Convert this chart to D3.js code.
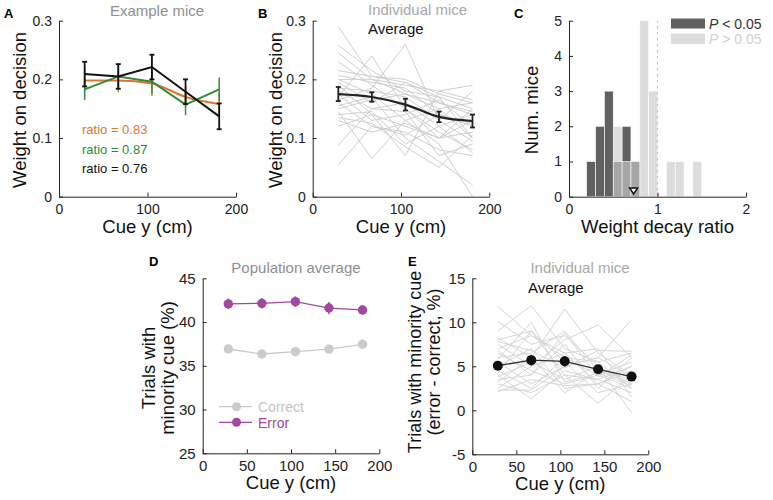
<!DOCTYPE html>
<html><head><meta charset="utf-8">
<script src="https://cdn.jsdelivr.net/npm/d3@7"></script>
<style>
html,body{margin:0;padding:0;background:#fff;}
svg text{font-family:"Liberation Sans",Arial,Helvetica,sans-serif;}
</style></head>
<body>
<svg id="fig" width="773" height="500"></svg>
<script>
// ---------------- DATA ----------------
const cueY = [29, 67, 105, 143, 181];

// Panel A: example mice
const exOrange = [0.198, 0.198, 0.193, 0.170, 0.158];
const exOrangeErr = [0.020, 0.020, 0.021, 0.018, 0.020];
const exGreen = [0.183, 0.205, 0.196, 0.157, 0.183];
const exGreenErr = [0.018, 0.020, 0.020, 0.018, 0.020];
const exBlack = [0.209, 0.205, 0.221, 0.179, 0.137];
const exBlackErr = [0.021, 0.021, 0.021, 0.021, 0.022];
const ratioLabels = ["ratio = 0.83", "ratio = 0.87", "ratio = 0.76"];

// Panel B: individual mice weights and average
const indivWeights = [
  [0.290, 0.205, 0.195, 0.160, 0.140],
  [0.258, 0.215, 0.180, 0.170, 0.150],
  [0.245, 0.200, 0.190, 0.180, 0.190],
  [0.230, 0.190, 0.150, 0.110, 0.080],
  [0.215, 0.205, 0.200, 0.175, 0.160],
  [0.207, 0.195, 0.185, 0.140, 0.120],
  [0.200, 0.175, 0.130, 0.090, 0.000],
  [0.195, 0.160, 0.195, 0.170, 0.100],
  [0.190, 0.140, 0.120, 0.100, 0.110],
  [0.185, 0.180, 0.170, 0.130, 0.180],
  [0.180, 0.150, 0.160, 0.120, 0.140],
  [0.175, 0.130, 0.140, 0.165, 0.120],
  [0.170, 0.240, 0.150, 0.100, 0.130],
  [0.165, 0.185, 0.260, 0.130, 0.095],
  [0.160, 0.120, 0.110, 0.080, 0.070],
  [0.155, 0.170, 0.100, 0.060, 0.020],
  [0.150, 0.165, 0.175, 0.150, 0.160],
  [0.145, 0.065, 0.130, 0.150, 0.100],
  [0.140, 0.145, 0.090, 0.120, 0.075],
  [0.135, 0.125, 0.085, 0.050, 0.105],
  [0.130, 0.110, 0.125, 0.100, 0.150],
  [0.120, 0.140, 0.070, 0.180, 0.165],
  [0.088, 0.150, 0.145, 0.070, 0.090],
  [0.054, 0.120, 0.105, 0.140, 0.125],
  [0.200, 0.200, 0.175, 0.160, 0.145]
];
const avgWeight = [0.175, 0.170, 0.157, 0.136, 0.129];
const avgWeightErr = [0.012, 0.008, 0.010, 0.009, 0.011];

// Panel C: histogram of weight decay ratio
const binLower = [0.2, 0.3, 0.4, 0.5, 0.6, 0.7, 0.8, 0.9, 1.0, 1.1, 1.2, 1.3, 1.4];
const countSig = [1, 2, 3, 1, 2, 1, 0, 0, 0, 0, 0, 0, 0];
const countNonSig = [0, 0, 0, 2, 1, 1, 5, 3, 0, 1, 1, 0, 1];
const binWidth = 0.1;
const meanRatio = 0.73;
const legendC = ["< 0.05", "> 0.05"];

// Panel D: population average
const pctCorrect = [36.92, 36.35, 36.62, 36.90, 37.46];
const pctCorrectErr = [0.2, 0.2, 0.2, 0.45, 0.3];
const pctError = [42.07, 42.14, 42.33, 41.60, 41.38];
const pctErrorErr = [0.6, 0.6, 0.6, 0.7, 0.5];

// Panel E: error - correct, individual mice + average
const indivDiff = [
  [11.8, 8.5, 6.0, 4.0, 2.5],
  [10.1, 7.5, 8.5, 5.0, 3.0],
  [9.0, 11.9, 7.0, 5.5, 6.5],
  [8.2, 6.0, 11.5, 6.5, 4.0],
  [8.0, 9.0, 4.0, 3.5, 2.0],
  [7.5, 5.0, 8.0, 9.7, 6.0],
  [7.0, 8.5, 6.5, 3.0, 1.0],
  [6.5, 4.5, 3.0, 4.0, 5.5],
  [6.0, 6.5, 9.0, 4.5, 3.5],
  [5.5, 3.0, 5.0, 6.0, 10.3],
  [5.0, 7.0, 2.5, 3.0, 4.5],
  [4.5, 2.5, 6.0, 5.5, 2.5],
  [4.2, 9.0, 5.5, 2.0, 3.0],
  [4.0, 1.3, 4.5, 3.5, 5.0],
  [3.8, 5.5, 3.5, 5.0, -0.3],
  [3.5, 4.0, 7.5, 2.5, 6.0],
  [3.2, 6.0, 2.0, 4.5, 3.0],
  [3.0, 2.0, 4.0, 0.8, 4.0],
  [2.5, 5.0, 6.5, 7.0, 1.5],
  [2.1, 3.5, 2.8, 3.0, 5.0],
  [7.8, 6.8, 4.8, 6.8, 6.7],
  [5.8, 10.0, 3.2, 4.2, 2.8],
  [2.3, 2.3, 5.0, 6.0, 3.8],
  [6.8, 4.0, 8.8, 3.8, 6.3]
];
const avgDiff = [5.07, 5.70, 5.57, 4.66, 3.83];
const avgDiffErr = [0.5, 0.6, 0.6, 0.3, 0.5];

const ticksWeight = [0, 0.1, 0.2, 0.3];
const ticksCue3 = [0, 100, 200];
const ticksCue5 = [0, 50, 100, 150, 200];
const ticksCount = [0, 1, 2, 3, 4, 5];
const ticksRatio = [0, 1, 2];
const ticksPctD = [25, 30, 35, 40, 45];
const ticksPctE = [-5, 0, 5, 10, 15];

// ---------------- DRAW ----------------
const svg = d3.select("#fig");
const AX = "#262626";
const GRAYT = "#8f8f8f";
const ORANGE = "#d9782d", GREEN = "#2f8a3a", PURPLE = "#a2479f";
const INDIV = "#cfcfcf";

function axes(g, xs, ys, xticks, yticks, yfmt, fs) {
  fs = fs || 14;
  const gx = g.append("g").attr("transform", `translate(0,${ys.range()[0]})`)
    .call(d3.axisBottom(xs).tickValues(xticks).tickSizeInner(-4).tickSizeOuter(0).tickPadding(7).tickFormat(d => d));
  const gy = g.append("g").attr("transform", `translate(${xs.range()[0]},0)`)
    .call(d3.axisLeft(ys).tickValues(yticks).tickSizeInner(-4).tickSizeOuter(0).tickPadding(7).tickFormat(yfmt || (d => d)));
  [gx, gy].forEach(a => {
    a.selectAll("path,line").attr("stroke", AX).attr("stroke-width", 1);
    a.selectAll("text").attr("font-size", fs).attr("fill", "#222")
      .style("font-family", '"Liberation Sans",Arial,sans-serif');
  });
}
function xlabel(g, xs, ys, txt) {
  const r = xs.range();
  g.append("text").attr("x", (r[0] + r[1]) / 2).attr("y", ys.range()[0] + 36)
    .attr("text-anchor", "middle").attr("font-size", 18.5).attr("fill", "#111").text(txt);
}
function ylabel(g, x, y, lines) {
  const t = g.append("text").attr("transform", `translate(${x},${y}) rotate(-90)`)
    .attr("text-anchor", "middle").attr("font-size", 18.5).attr("fill", "#111");
  lines.forEach((l, i) => t.append("tspan").attr("x", 0).attr("dy", i === 0 ? (lines.length > 1 ? -2 : 6) : 19).text(l));
}
function letter(x, y, s) {
  svg.append("text").attr("x", x).attr("y", y).attr("font-size", 13).attr("font-weight", "bold").attr("fill", "#000").text(s);
}
function errbars(g, xs, ys, xv, yv, ev, color, w, cap) {
  xv.forEach((x, i) => {
    const px = xs(x);
    g.append("line").attr("x1", px).attr("x2", px).attr("y1", ys(yv[i] - ev[i])).attr("y2", ys(yv[i] + ev[i]))
      .attr("stroke", color).attr("stroke-width", w);
    if (cap > 0) {
      [yv[i] - ev[i], yv[i] + ev[i]].forEach(v => g.append("line").attr("x1", px - cap).attr("x2", px + cap)
        .attr("y1", ys(v)).attr("y2", ys(v)).attr("stroke", color).attr("stroke-width", w));
    }
  });
}
const fmtW = d => d === 0 ? "0" : d3.format(".1f")(d);

// ---- Panel A ----
{
  const g = svg.append("g");
  const xs = d3.scaleLinear().domain([0, 200]).range([59, 236]);
  const ys = d3.scaleLinear().domain([0, 0.3]).range([196.7, 20.7]);
  axes(g, xs, ys, ticksCue3, ticksWeight, fmtW);
  const line = d3.line().x((d, i) => xs(cueY[i])).y(d => ys(d));
  const sm = d3.line().x((d, i) => xs(cueY[i])).y(d => ys(d)).curve(d3.curveMonotoneX);
  errbars(g, xs, ys, cueY, exOrange, exOrangeErr, ORANGE, 1.5, 0);
  g.append("path").datum(exOrange).attr("d", sm).attr("fill", "none").attr("stroke", ORANGE).attr("stroke-width", 2);
  errbars(g, xs, ys, cueY, exGreen, exGreenErr, GREEN, 1.5, 0);
  g.append("path").datum(exGreen).attr("d", line).attr("fill", "none").attr("stroke", GREEN).attr("stroke-width", 2);
  errbars(g, xs, ys, cueY, exBlack, exBlackErr, "#111", 1.8, 2.5);
  g.append("path").datum(exBlack).attr("d", line).attr("fill", "none").attr("stroke", "#111").attr("stroke-width", 2);
  const cols = [ORANGE, GREEN, "#111"];
  ratioLabels.forEach((t, i) => g.append("text").attr("x", 82).attr("y", 134 + i * 19.5).attr("font-size", 13)
    .attr("fill", cols[i]).text(t));
  g.append("text").attr("x", 157).attr("y", 16).attr("text-anchor", "middle").attr("font-size", 15).attr("fill", GRAYT).text("Example mice");
  xlabel(g, xs, ys, "Cue y (cm)");
  ylabel(g, 20, 110, ["Weight on decision"]);
  letter(4, 18, "A");
}

// ---- Panel B ----
{
  const g = svg.append("g");
  const xs = d3.scaleLinear().domain([0, 200]).range([312.7, 489.3]);
  const ys = d3.scaleLinear().domain([0, 0.3]).range([196.7, 20.7]);
  const line = d3.line().x((d, i) => xs(cueY[i])).y(d => ys(d));
  indivWeights.forEach(w => g.append("path").datum(w).attr("d", line).attr("fill", "none").attr("stroke", INDIV).attr("stroke-width", 1));
  axes(g, xs, ys, ticksCue3, ticksWeight, fmtW);
  const sm = d3.line().x((d, i) => xs(cueY[i])).y(d => ys(d)).curve(d3.curveMonotoneX);
  g.append("path").datum(avgWeight).attr("d", sm).attr("fill", "none").attr("stroke", "#222").attr("stroke-width", 2.2);
  errbars(g, xs, ys, cueY, avgWeight, avgWeightErr, "#222", 1.8, 2.5);
  g.append("text").attr("x", 368).attr("y", 15).attr("font-size", 15).attr("fill", "#a8a8a8").text("Individual mice");
  g.append("text").attr("x", 368).attr("y", 34).attr("font-size", 15).attr("fill", "#111").text("Average");
  xlabel(g, xs, ys, "Cue y (cm)");
  ylabel(g, 275.5, 110, ["Weight on decision"]);
  letter(258, 18, "B");
}

// ---- Panel C ----
{
  const g = svg.append("g");
  const xs = d3.scaleLinear().domain([0, 2]).range([569, 746]);
  const ys = d3.scaleLinear().domain([0, 5]).range([196.7, 20.7]);
  const DARK = "#616161", LIGHT = "#dcdcdc", MID = "#a6a6a6";
  const bars = binLower.map((b, i) => ({ b, s: countSig[i], n: countNonSig[i] }));
  const drawBars = (key, col) => g.selectAll(null).data(bars.filter(d => key(d) > 0)).enter().append("rect")
    .attr("x", d => xs(d.b)).attr("width", d => xs(d.b + binWidth) - xs(d.b))
    .attr("y", d => ys(key(d))).attr("height", d => ys(0) - ys(key(d)))
    .attr("fill", col).attr("stroke", "#fff").attr("stroke-width", 0.6);
  drawBars(d => d.n, LIGHT);
  drawBars(d => d.s, DARK);
  drawBars(d => Math.min(d.s, d.n), MID);
  g.append("line").attr("x1", xs(1)).attr("x2", xs(1)).attr("y1", ys(0)).attr("y2", ys(5))
    .attr("stroke", "#c8c8c8").attr("stroke-width", 1).attr("stroke-dasharray", "3,3");
  axes(g, xs, ys, ticksRatio, ticksCount);
  const tx = xs(meanRatio), ty = 194;
  g.append("path").attr("d", `M${tx - 4},${ty - 6}L${tx + 4},${ty - 6}L${tx},${ty}Z`)
    .attr("fill", "#fff").attr("stroke", "#111").attr("stroke-width", 1.5);
  g.append("rect").attr("x", 671).attr("y", 18.5).attr("width", 34).attr("height", 10).attr("fill", DARK);
  g.append("rect").attr("x", 671).attr("y", 33.5).attr("width", 34).attr("height", 10.5).attr("fill", LIGHT);
  [0, 1].forEach(i => {
    const t = g.append("text").attr("x", 709).attr("y", 28.5 + i * 15).attr("font-size", 14).attr("fill", i === 0 ? "#333" : "#d0d0d0");
    t.append("tspan").attr("font-style", "italic").text("P");
    t.append("tspan").text(" " + legendC[i]);
  });
  xlabel(g, xs, ys, "Weight decay ratio");
  ylabel(g, 532, 110, ["Num. mice"]);
  letter(514, 18, "C");
}

// ---- Panel D ----
{
  const g = svg.append("g");
  const xs = d3.scaleLinear().domain([0, 200]).range([202.7, 379.3]);
  const ys = d3.scaleLinear().domain([25, 45]).range([453.3, 278.3]);
  axes(g, xs, ys, ticksCue5, ticksPctD, null, 15);
  const line = d3.line().x((d, i) => xs(cueY[i])).y(d => ys(d));
  const series = [[pctCorrect, pctCorrectErr, "#cbcbcb"], [pctError, pctErrorErr, PURPLE]];
  series.forEach(([v, e, c]) => {
    g.append("path").datum(v).attr("d", line).attr("fill", "none").attr("stroke", c).attr("stroke-width", 1.3);
    errbars(g, xs, ys, cueY, v, e, c, 1.5, 0);
    g.selectAll(null).data(v).enter().append("circle").attr("cx", (d, i) => xs(cueY[i])).attr("cy", d => ys(d))
      .attr("r", 4.7).attr("fill", c);
  });
  const legs = [["Correct", "#cbcbcb", "#c4c4c4"], ["Error", PURPLE, PURPLE]];
  legs.forEach(([t, c, tc], i) => {
    const y = 406.7 + i * 15.6;
    g.append("line").attr("x1", 219).attr("x2", 252).attr("y1", y).attr("y2", y).attr("stroke", c).attr("stroke-width", 1.3);
    g.append("circle").attr("cx", 236.5).attr("cy", y).attr("r", 4.5).attr("fill", c);
    g.append("text").attr("x", 258).attr("y", y + 5.2).attr("font-size", 14).attr("fill", tc).text(t);
  });
  g.append("text").attr("x", 296).attr("y", 273).attr("text-anchor", "middle").attr("font-size", 15).attr("fill", GRAYT).text("Population average");
  xlabel(g, xs, ys, "Cue y (cm)");
  ylabel(g, 157, 368, ["Trials with", "minority cue (%)"]);
  letter(149, 266, "D");
}

// ---- Panel E ----
{
  const g = svg.append("g");
  const xs = d3.scaleLinear().domain([0, 200]).range([472.3, 648.3]);
  const ys = d3.scaleLinear().domain([-5, 15]).range([454.3, 278.3]);
  const line = d3.line().x((d, i) => xs(cueY[i])).y(d => ys(d));
  indivDiff.forEach(w => g.append("path").datum(w).attr("d", line).attr("fill", "none").attr("stroke", "#d6d6d6").attr("stroke-width", 1));
  axes(g, xs, ys, ticksCue5, ticksPctE, d => d < 0 ? "-" + Math.abs(d) : d, 15);
  g.append("path").datum(avgDiff).attr("d", line).attr("fill", "none").attr("stroke", "#333").attr("stroke-width", 1.3);
  errbars(g, xs, ys, cueY, avgDiff, avgDiffErr, "#222", 1.5, 0);
  g.selectAll(null).data(avgDiff).enter().append("circle").attr("cx", (d, i) => xs(cueY[i])).attr("cy", d => ys(d))
    .attr("r", 5).attr("fill", "#111");
  g.append("text").attr("x", 580).attr("y", 273).attr("text-anchor", "middle").attr("font-size", 15).attr("fill", "#a8a8a8").text("Individual mice");
  g.append("text").attr("x", 528).attr("y", 293).attr("font-size", 15).attr("fill", "#111").text("Average");
  xlabel(g, xs, ys, "Cue y (cm)");
  const t = g.append("text").attr("transform", "translate(423,362) rotate(-90)")
    .attr("text-anchor", "middle").attr("font-size", 18).attr("fill", "#111");
  t.append("tspan").attr("x", 0).attr("dy", -2).text("Trials with minority cue");
  t.append("tspan").attr("x", 0).attr("dy", 19).text("(error - correct, %)");
  letter(408, 266, "E");
}
</script>
</body></html>
